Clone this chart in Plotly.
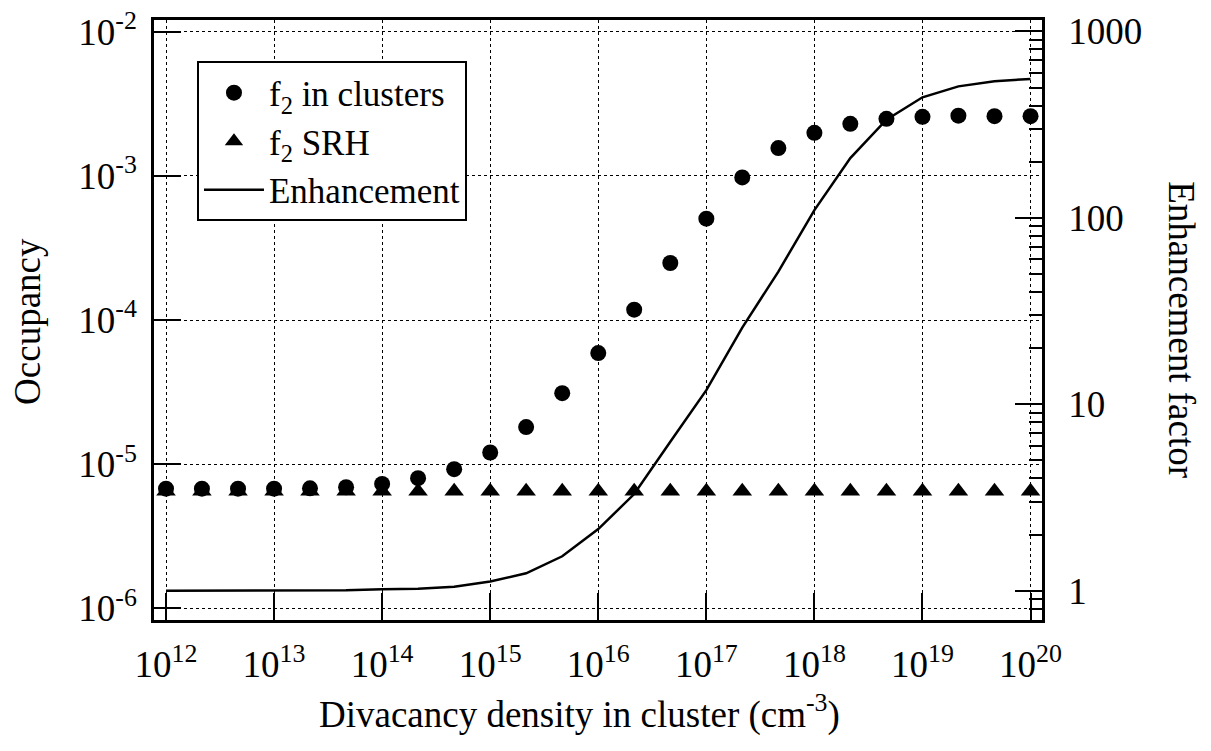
import plotly.graph_objects as go

# ---- data ----
density = [1.0e12, 2.15e12, 4.64e12, 1.0e13, 2.15e13, 4.64e13, 1.0e14, 2.15e14, 4.64e14,
           1.0e15, 2.15e15, 4.64e15, 1.0e16, 2.15e16, 4.64e16, 1.0e17, 2.15e17, 4.64e17,
           1.0e18, 2.15e18, 4.64e18, 1.0e19, 2.15e19, 4.64e19, 1.0e20]

f2_clusters = [6.76e-6, 6.76e-6, 6.76e-6, 6.76e-6, 6.8e-6, 6.92e-6, 7.3e-6, 8.0e-6, 9.23e-6,
               1.205e-5, 1.81e-5, 3.11e-5, 5.9e-5, 1.18e-4, 2.49e-4, 5.05e-4, 9.77e-4, 1.56e-3,
               1.99e-3, 2.30e-3, 2.49e-3, 2.57e-3, 2.62e-3, 2.60e-3, 2.60e-3]

f2_srh = [6.5e-6] * 25

enhancement = [1.0, 1.0, 1.0, 1.0, 1.002, 1.005, 1.017, 1.025, 1.05,
               1.12, 1.24, 1.53, 2.14, 3.3, 6.3, 11.9, 25.8, 51.5,
               110, 209, 336, 443, 507, 540, 556]

x_tickvals = [1e12, 1e13, 1e14, 1e15, 1e16, 1e17, 1e18, 1e19, 1e20]
x_ticktext = ["10<sup>12</sup>", "10<sup>13</sup>", "10<sup>14</sup>", "10<sup>15</sup>",
              "10<sup>16</sup>", "10<sup>17</sup>", "10<sup>18</sup>", "10<sup>19</sup>",
              "10<sup>20</sup>"]
y_tickvals = [1e-6, 1e-5, 1e-4, 1e-3, 1e-2]
y_ticktext = ["10<sup>-6</sup>", "10<sup>-5</sup>", "10<sup>-4</sup>", "10<sup>-3</sup>",
              "10<sup>-2</sup>"]
y2_tickvals = [1, 10, 100, 1000]
y2_ticktext = ["1", "10", "100", "1000"]
y2_minorvals = [m * 10 ** d for d in range(-1, 3) for m in range(2, 10)]

FONT = "Liberation Serif, Times New Roman, serif"
FS = 37

fig = go.Figure()
fig.add_trace(go.Scatter(
    x=density, y=f2_clusters, mode="markers", name="f<sub>2</sub> in clusters",
    marker=dict(symbol="circle", size=16, color="black"), yaxis="y"))
fig.add_trace(go.Scatter(
    x=density, y=f2_srh, mode="markers", name="f<sub>2</sub> SRH",
    marker=dict(symbol="triangle-up", size=17, color="black"), yaxis="y"))
fig.add_trace(go.Scatter(
    x=density, y=enhancement, mode="lines", name="Enhancement",
    line=dict(color="black", width=2.5), yaxis="y2"))

axis_common = dict(ticks="inside", ticklen=27, tickwidth=2, tickcolor="black",
                   showline=True, linecolor="black", linewidth=2.5, zeroline=False,
                   automargin=False, ticklabeloverflow="allow",
                   tickfont=dict(family=FONT, size=FS, color="black"))

fig.update_layout(
    width=1195, height=735,
    margin=dict(l=146, r=161, t=12, b=123, autoexpand=False),
    paper_bgcolor="white", plot_bgcolor="white",
    font=dict(family=FONT, size=FS, color="black"),
    showlegend=True,
    legend=dict(x=0.0484, y=0.931, xanchor="left", yanchor="top",
                bgcolor="white", bordercolor="black", borderwidth=2,
                font=dict(family=FONT, size=35, color="black"),
                itemwidth=60, tracegroupgap=0),
    xaxis=dict(type="log", range=[11.889, 20.106],
               tickmode="array", tickvals=x_tickvals, ticktext=x_ticktext,
               mirror=True, showgrid=True, gridcolor="black", gridwidth=1, griddash="dot",
               ticklabelstandoff=10, **axis_common),
    yaxis=dict(type="log", range=[-6.081, -1.918],
               tickmode="array", tickvals=y_tickvals, ticktext=y_ticktext,
               showgrid=True, gridcolor="black", gridwidth=1, griddash="dot",
               ticklabelstandoff=7, **axis_common),
    yaxis2=dict(type="log", range=[-0.157, 3.061], overlaying="y", side="right",
                tickmode="array", tickvals=y2_tickvals, ticktext=y2_ticktext,
                minor=dict(tickmode="array", tickvals=y2_minorvals, ticks="inside",
                           ticklen=13, tickwidth=2, tickcolor="black", showgrid=False),
                showgrid=False, ticklabelstandoff=16, **axis_common),
    annotations=[
        dict(text="Occupancy", xref="paper", yref="paper", x=-0.1418, y=0.497,
             xanchor="center", yanchor="middle",
             textangle=-90, showarrow=False, font=dict(family=FONT, size=FS)),
        dict(text="Enhancement factor", xref="paper", yref="paper", x=1.157, y=0.484,
             xanchor="center", yanchor="middle",
             textangle=90, showarrow=False, font=dict(family=FONT, size=FS)),
        dict(text="Divacancy density in cluster (cm<sup>-3</sup>)", xref="paper",
             yref="paper", x=0.4796, y=-0.1535, xanchor="center", yanchor="middle",
             showarrow=False, font=dict(family=FONT, size=FS)),
    ],
)

fig.write_html("out.html")
